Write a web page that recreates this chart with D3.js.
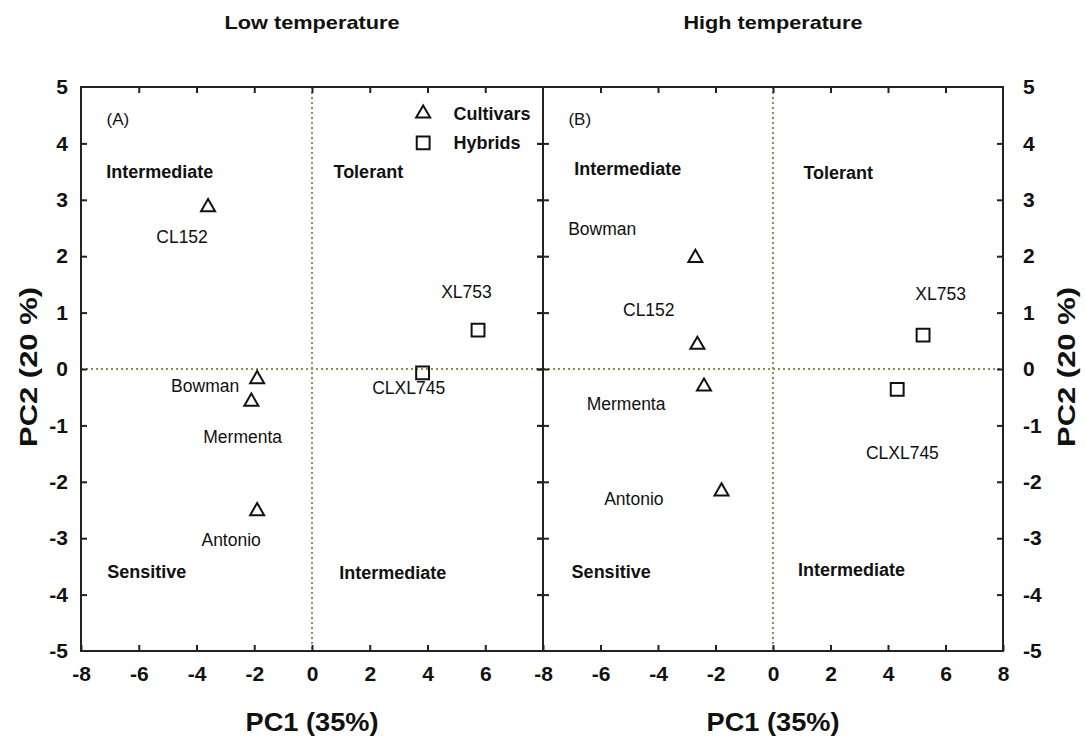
<!DOCTYPE html>
<html><head><meta charset="utf-8">
<script src="https://cdn.jsdelivr.net/npm/d3@7"></script>
<style>body{margin:0;background:#fff}svg{display:block}text{font-family:"Liberation Sans",Arial,sans-serif}</style>
</head><body><svg id="c" width="1085" height="754"></svg>
<script>
// ---- data ----
const panelTitles = ["Low temperature", "High temperature"];
const panelTags = ["(A)", "(B)"];
const xTicks = [-8, -6, -4, -2, 0, 2, 4, 6, 8];
const yTicks = [5, 4, 3, 2, 1, 0, -1, -2, -3, -4, -5];

// Panel A (low temperature)
const namesA = ["CL152", "Bowman", "Mermenta", "Antonio", "CLXL745", "XL753"];
const typeA = ["Cultivars", "Cultivars", "Cultivars", "Cultivars", "Hybrids", "Hybrids"];
const pc1A = [-3.6, -1.9, -2.1, -1.9, 3.83, 5.75];
const pc2A = [2.87, -0.18, -0.58, -2.52, -0.07, 0.69];
const labelXA = [-4.5, -3.7, -2.4, -2.8, 3.35, 5.35];
const labelYA = [2.35, -0.3, -1.2, -3.03, -0.33, 1.37];

// Panel B (high temperature)
const namesB = ["Bowman", "CL152", "Mermenta", "Antonio", "CLXL745", "XL753"];
const typeB = ["Cultivars", "Cultivars", "Cultivars", "Cultivars", "Hybrids", "Hybrids"];
const pc1B = [-2.7, -2.63, -2.4, -1.79, 4.32, 5.22];
const pc2B = [1.97, 0.43, -0.31, -2.17, -0.36, 0.60];
const labelXB = [-5.94, -4.32, -5.11, -4.84, 4.5, 5.83];
const labelYB = [2.49, 1.04, -0.62, -2.31, -1.48, 1.34];

// Quadrant annotations [TL, TR, BL, BR]
const quadNamesA = ["Intermediate", "Tolerant", "Sensitive", "Intermediate"];
const quadXA = [-5.27, 1.95, -5.72, 2.8];
const quadYA = [3.49, 3.49, -3.59, -3.61];
const quadNamesB = ["Intermediate", "Tolerant", "Sensitive", "Intermediate"];
const quadXB = [-5.05, 2.27, -5.63, 2.73];
const quadYB = [3.56, 3.48, -3.59, -3.56];

const legendNames = ["Cultivars", "Hybrids"];

// ---- drawing ----
const svg = d3.select("#c");
const y = d3.scaleLinear().domain([-5, 5]).range([651, 87]);
const xA = d3.scaleLinear().domain([-8, 8]).range([81, 543]);
const xB = d3.scaleLinear().domain([-8, 8]).range([543, 1003]);
const fmt = d => String(d);
const INK = "#111";

const tri = d3.symbol().type(d3.symbolTriangle).size(85);
const sq = d3.symbol().type(d3.symbolSquare).size(165);

function styleTicks(ax) {
  ax.select(".domain").remove();
  ax.selectAll("line").attr("stroke", "#222").attr("stroke-width", 2);
  ax.selectAll("text").attr("font-size", 21).attr("font-weight", "bold").attr("fill", INK)
    .attr("font-family", "'Liberation Sans', Arial, sans-serif");
}

function panel(x, idx, names, types, px, py, lx, ly, qn, qx, qy) {
  const g = svg.append("g");
  // zero lines
  g.append("line").attr("x1", x(0)).attr("x2", x(0)).attr("y1", y(5)).attr("y2", y(-5))
    .attr("stroke", "#8f8f55").attr("stroke-width", 2).attr("stroke-dasharray", "2,3");
  g.append("line").attr("x1", x(-8)).attr("x2", x(8)).attr("y1", y(0)).attr("y2", y(0))
    .attr("stroke", "#8f8f55").attr("stroke-width", 2).attr("stroke-dasharray", "2,3");
  // frame
  g.append("rect").attr("x", x.range()[0]).attr("y", y.range()[1])
    .attr("width", x.range()[1] - x.range()[0]).attr("height", y.range()[0] - y.range()[1])
    .attr("fill", "none").attr("stroke", "#222").attr("stroke-width", 2);

  // bottom axis (panel A omits its "8": panel B's "-8" sits there)
  const bt = idx === 0 ? xTicks.slice(0, -1) : xTicks;
  const bAx = g.append("g").attr("transform", `translate(0,${y(-5)})`)
    .call(d3.axisBottom(x).tickValues(bt).tickSizeInner(-6).tickSizeOuter(0).tickPadding(15).tickFormat(fmt));
  styleTicks(bAx);
  // top axis (ticks only)
  const tAx = g.append("g").attr("transform", `translate(0,${y(5)})`)
    .call(d3.axisTop(x).tickValues(xTicks.slice(1, -1)).tickSizeInner(-6).tickSizeOuter(0).tickFormat(""));
  styleTicks(tAx);

  // left axis
  const lAx = g.append("g").attr("transform", `translate(${x(-8)},0)`)
    .call(d3.axisLeft(y).tickValues(yTicks.slice(1, -1)).tickSizeInner(-6).tickSizeOuter(0).tickPadding(13)
      .tickFormat(idx === 0 ? fmt : ""));
  styleTicks(lAx);
  if (idx === 0) {
    lAx.selectAll(null).data([5, -5]).join("text")
      .attr("x", -13).attr("y", d => y(d)).attr("dy", "0.32em").attr("text-anchor", "end")
      .attr("font-size", 21).attr("font-weight", "bold").attr("fill", INK).text(fmt);
  } else {
    lAx.selectAll("line").attr("x1", 6).attr("x2", -6);
  }
  // right axis
  const rAx = g.append("g").attr("transform", `translate(${x(8)},0)`)
    .call(d3.axisRight(y).tickValues(yTicks.slice(1, -1)).tickSizeInner(-6).tickSizeOuter(0).tickPadding(20)
      .tickFormat(idx === 1 ? fmt : ""));
  styleTicks(rAx);
  if (idx === 1) {
    rAx.selectAll(null).data([5, -5]).join("text")
      .attr("x", 20).attr("y", d => y(d)).attr("dy", "0.32em").attr("text-anchor", "start")
      .attr("font-size", 21).attr("font-weight", "bold").attr("fill", INK).text(fmt);
  }

  // title
  svg.append("text").attr("x", x(0)).attr("y", 29).attr("text-anchor", "middle")
    .attr("font-size", 19).attr("font-weight", "bold").attr("fill", INK)
    .attr("textLength", idx === 0 ? 175 : 179).attr("lengthAdjust", "spacingAndGlyphs").text(panelTitles[idx]);
  // x axis title
  svg.append("text").attr("x", x(0)).attr("y", 731).attr("text-anchor", "middle")
    .attr("font-size", 26).attr("fill", INK).attr("font-weight", "bold")
    .attr("textLength", 133).attr("lengthAdjust", "spacingAndGlyphs").text("PC1 (35%)");
  // panel tag
  g.append("text").attr("x", x(-6.72)).attr("y", y(4.44)).attr("dy", "0.35em").attr("text-anchor", "middle")
    .attr("font-size", 17).attr("fill", INK).text(panelTags[idx]);

  // quadrant labels
  qn.forEach((t, i) => {
    g.append("text").attr("x", x(qx[i])).attr("y", y(qy[i])).attr("dy", "0.35em").attr("text-anchor", "middle")
      .attr("font-size", 18).attr("font-weight", "bold").attr("fill", INK).text(t);
  });
  // point labels
  names.forEach((t, i) => {
    g.append("text").attr("x", x(lx[i])).attr("y", y(ly[i])).attr("dy", "0.35em").attr("text-anchor", "middle")
      .attr("font-size", 17.5).attr("fill", INK).text(t);
  });
  // markers
  names.forEach((t, i) => {
    g.append("path").attr("d", types[i] === "Cultivars" ? tri() : sq())
      .attr("transform", `translate(${x(px[i])},${y(py[i])})`)
      .attr("fill", "none").attr("stroke", INK).attr("stroke-width", 2);
  });
}

panel(xA, 0, namesA, typeA, pc1A, pc2A, labelXA, labelYA, quadNamesA, quadXA, quadYA);
panel(xB, 1, namesB, typeB, pc1B, pc2B, labelXB, labelYB, quadNamesB, quadXB, quadYB);

// legend (panel A)
const lg = svg.append("g");
legendNames.forEach((n, i) => {
  const ly = y(4.53 - i * 0.52);
  lg.append("path").attr("d", i === 0 ? tri() : sq())
    .attr("transform", `translate(${xA(3.85)},${ly})`)
    .attr("fill", "none").attr("stroke", INK).attr("stroke-width", 2);
  lg.append("text").attr("x", xA(4.9)).attr("y", ly).attr("dy", "0.35em")
    .attr("font-size", 18).attr("font-weight", "bold").attr("fill", INK).text(n);
});

// y axis titles
[29, 1067].forEach(cx => {
  svg.append("text").attr("transform", `translate(${cx},${y(0) - 2}) rotate(-90)`).attr("text-anchor", "middle")
    .attr("dy", "0.35em").attr("font-size", 23).attr("font-weight", "bold").attr("fill", INK)
    .attr("textLength", 160).attr("lengthAdjust", "spacingAndGlyphs").text("PC2 (20 %)");
});
</script></body></html>
